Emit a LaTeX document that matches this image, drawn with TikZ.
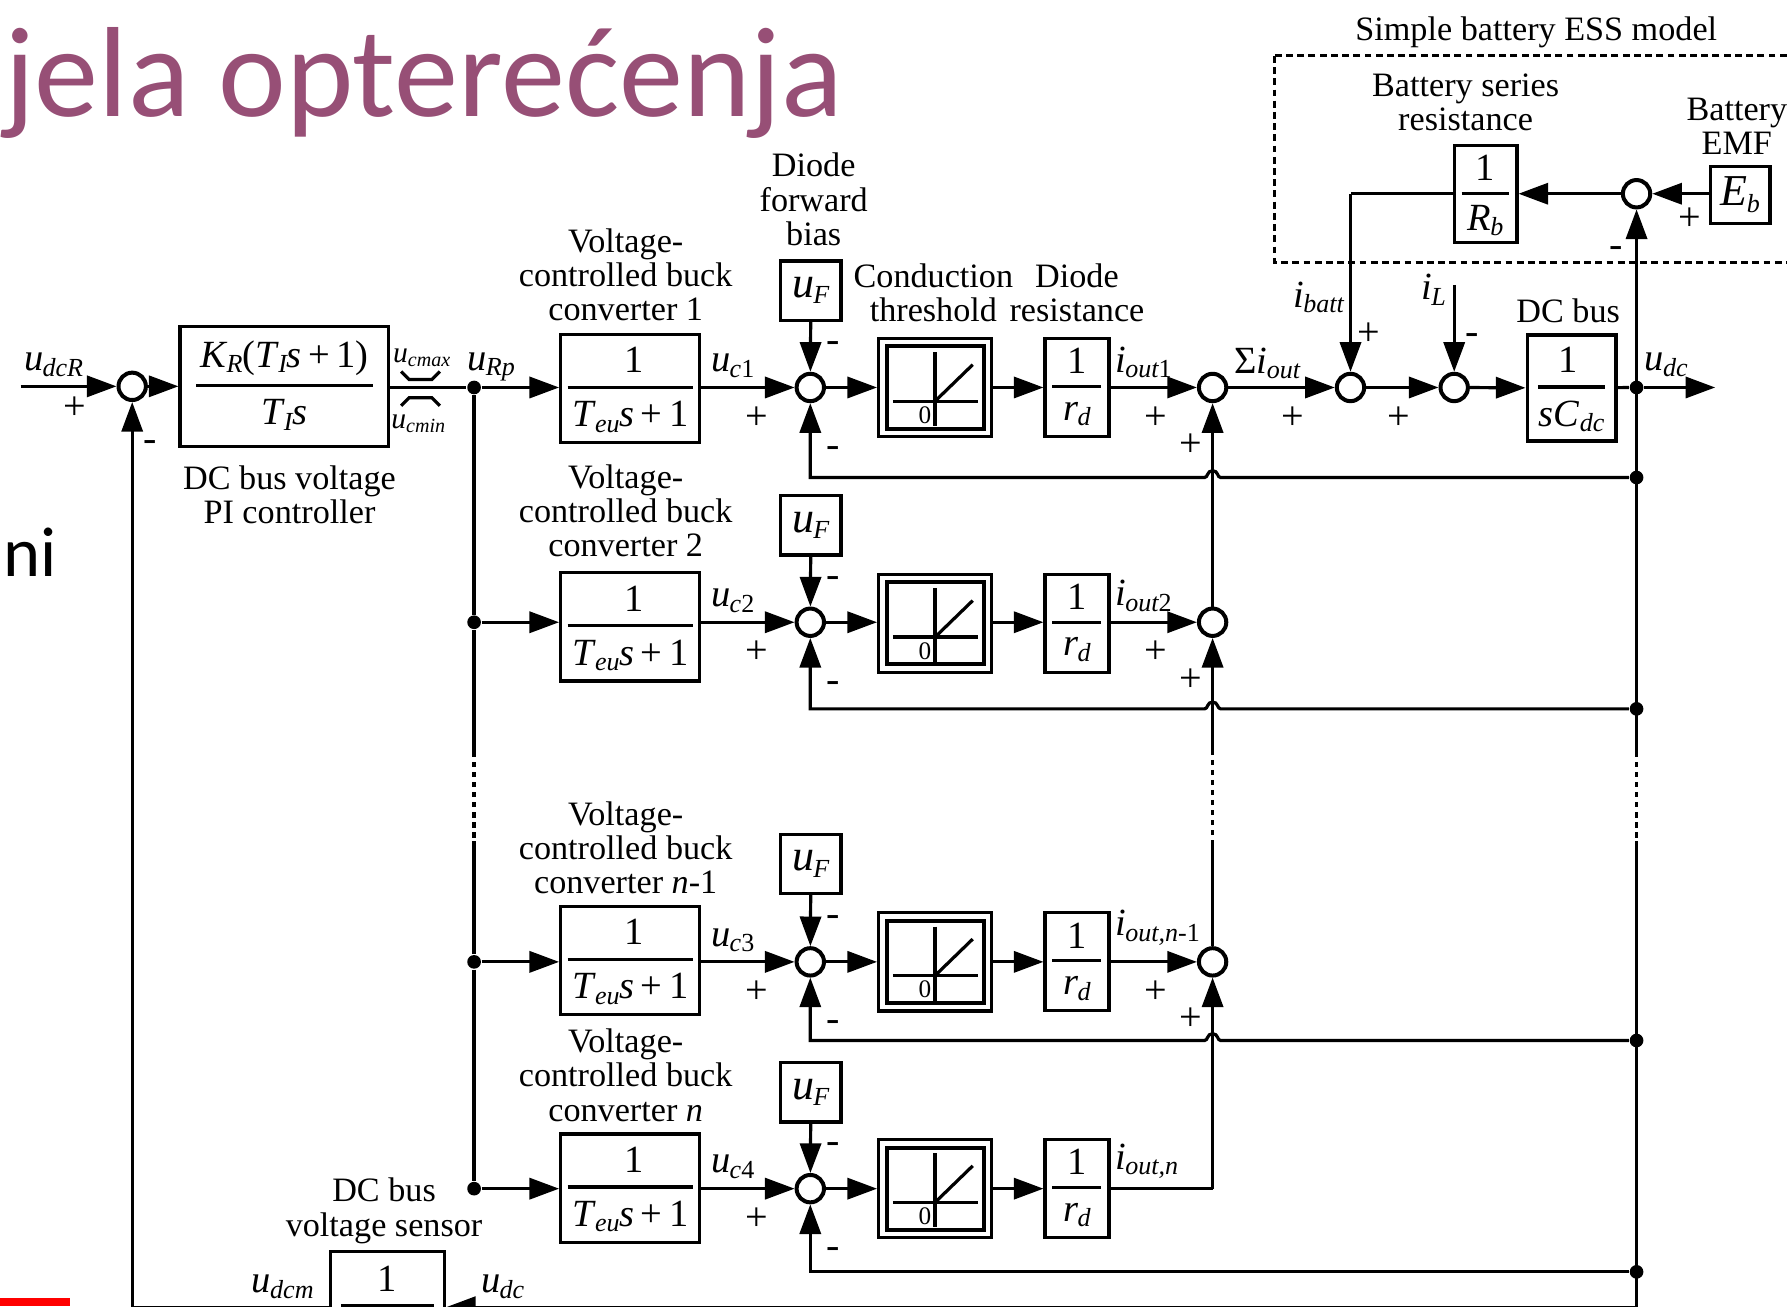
\documentclass[tikz,border=0pt]{standalone}
\usepackage{fontspec}
\setmainfont{Liberation Serif}
\newfontfamily\slidefont{Carlito}
\usepackage{xcolor}
\usetikzlibrary{arrows.meta, calc}
\definecolor{titlecol}{HTML}{974F76}

% symbol with an italic subscript, set as text
\newcommand{\sym}[2]{\textit{#1}\kern-.02em\raisebox{-.32ex}{\fontsize{6.5}{7}\selectfont\itshape #2}}
\newcommand{\symsm}[2]{\textit{#1}\raisebox{-.32ex}{\fontsize{5}{6}\selectfont\itshape #2}}

% block with a fraction: name, x, y, width, height, bar width, top, bottom
\newcommand{\fracblock}[8]{%
  \node[blockbox, minimum width=#4*0.01cm, minimum height=#5*0.01cm] (#1) at (#2,#3) {};
  \draw[wire] ({#2-#6/2},{#3-1}) -- ({#2+#6/2},{#3-1});
  \node[symb] (#1num) at (#2,{#3-min(0.27*#5,25)}) {#7};
  \node[symb] (#1den) at (#2,{#3+min(0.27*#5,25)}) {#8};
}

% saturation block: name, x, y
\newcommand{\satblock}[3]{%
  \node[blockbox, minimum width=0.99cm, minimum height=0.86cm] (#1) at (#2,#3) {};
  \node[blockbox, minimum width=0.85cm, minimum height=0.72cm, line width=1pt] (#1in) at (#2,#3) {};
  \draw[wire] ({#2-37},{#3+12}) -- ({#2+38},{#3+12});
  \draw[wire] (#2,{#3-31}) -- (#2,{#3+34});
  \draw[wire] (#2,{#3+12}) -- ({#2+33},{#3-20});
  \node[font=\fontsize{6.3}{7}\selectfont, inner sep=0pt] (#1zero) at ({#2-9},{#3+24}) {0};
}

\begin{document}
\begin{tikzpicture}[
  x=0.01cm, y=-0.01cm,
  >={Triangle[length=2.6mm,width=1.85mm]},
  wire/.style={line width=0.8pt},
  blockbox/.style={draw, line width=0.8pt, rectangle, inner sep=0pt, fill=white},
  summer/.style={draw, circle, line width=1pt, minimum size=0.24cm, inner sep=0pt, fill=white},
  jdot/.style={circle, fill=black, minimum size=0.12cm, inner sep=0pt},
  lab/.style={font=\fontsize{8.53}{8.54}\selectfont, align=center, inner sep=0pt},
  symb/.style={font=\fontsize{9.6}{10}\selectfont, inner sep=0pt},
  symlab/.style={symb, yshift=-0.02cm},
  symbig/.style={font=\fontsize{11}{11}\selectfont, inner sep=0pt},
  sgn/.style={font=\fontsize{10}{10}\selectfont, inner sep=0pt, yshift=-0.025cm},
  neg/.style={sgn, yshift=-0.04cm},
  skip/.style={line width=0.8pt, dash pattern=on 1.3pt off 1.2pt},
]
\useasboundingbox (0,0) rectangle (1568,1146);

% slide text behind the figure
\node[font=\slidefont\fontsize{32}{32}\selectfont, text=titlecol, anchor=base west, inner sep=0pt] (title) at (3,102.5) {jela opterećenja};
\node[font=\slidefont\fontsize{17.6}{18}\selectfont, anchor=base west, inner sep=0pt] (frag) at (2,506) {ni};
\fill[red] (0,1139) rectangle (61,1146);

% input and PI controller
\node[summer] (sumr) at (116,339) {};
\fracblock{pi}{249.5}{339}{183}{105}{155}{\sym{K}{R}(\sym{T}{I}\textit{s}\,+\,1)}{\sym{T}{I}\textit{s}}
\node[lab] (pitxt) at (254,434) {DC bus voltage\\PI controller};
\coordinate (udcr) at (18,339);
\draw[wire,->] (udcr) -- (sumr);
\draw[wire,->] (sumr) -- (pi);
\node[symlab] (udcrlab) at (47,318) {\sym{u}{dcR}};
\node[sgn] (p0) at (66,356) {+};
\node[neg] (m0) at (132,385) {-};

% limiter marks
\node[font=\fontsize{7.4}{8}\selectfont, inner sep=0pt] (ucmax) at (370,314) {\symsm{u}{cmax}};
\node[font=\fontsize{7.4}{8}\selectfont, inner sep=0pt] (ucmin) at (367,372) {\symsm{u}{cmin}};
\draw[wire] (352,326) -- (359,333) -- (379,333) -- (386,326);
\draw[wire] (352,356) -- (359,349) -- (379,349) -- (386,356);
\node[symlab] (urp) at (431,320) {\sym{u}{Rp}};

% the four converter rows
\foreach \r/\yl/\yc/\yu/\ys/\yf/\yt/\yi/\tail/\isub in {
  1/340/341/255/340/419/241/318/1/{out{\upshape 1}},
  2/546/550/461/547/622/448/523/2/{out{\upshape 2}},
  3/844/843/758/844/913/744/814/{\textit{n}-1}/{out,\textit{n}{\upshape -1}},
  4/1043/1042.5/958.5/1043/1116/943.5/1019/\textit{n}/{out,\textit{n}}}{
  \node[jdot] (jb\r) at (416,\yl) {};
  \node[summer] (sumc\r) at (711,\yl) {};
  \node[jdot] (jf\r) at (1436,\yf) {};
  \fracblock{conv\r}{553}{\yc}{122}{95}{110}{\kern.06cm 1}{\sym{T}{eu}\textit{s}\,+\,1}
  \node[blockbox, symbig, minimum width=0.53cm, minimum height=0.52cm] (uf\r) at (711.5,\yu) {\sym{u}{F}};
  \satblock{sat\r}{820.5}{\ys}
  \fracblock{rd\r}{945}{\ys}{56}{86}{43}{1}{\sym{r}{d}}
  \node[lab] (convtxt\r) at (549,\yt) {Voltage-\\controlled buck\\converter \tail};
  \node[symlab] (uc\r) at (643,{\yl-21}) {\sym{u}{c{\upshape\r}}};
  \node[symb, anchor=west] (iout\r) at (978,\yi) {\sym{i}{\isub}};
  \node[sgn] (pc\r) at (664,{\yl+24}) {+};
  \node[neg] (mu\r) at (731,{\yl-42}) {-};
  \node[neg] (md\r) at (731,{\yl+50}) {-};
  \draw[wire,->] (jb\r) -- (conv\r.west |- jb\r);
  \draw[wire,->] (conv\r.east |- sumc\r) -- (sumc\r);
  \draw[wire,->] (uf\r) -- (sumc\r);
  \draw[wire,->] (sumc\r) -- (sat\r.west |- sumc\r);
  \draw[wire,->] (sat\r.east |- sumc\r) -- (rd\r.west |- sumc\r);
}
\node[lab] (biastxt) at (714,175) {Diode\\forward\\bias};
\node[lab] (condtxt) at (819,257) {Conduction\\threshold};
\node[lab] (restxt) at (945,257) {Diode\\resistance};

% output summers and their feedback lines with the hops
\foreach \r/\yl/\yf in {1/340/419, 2/546/622, 3/844/913}{
  \node[summer] (sumo\r) at (1064,\yl) {};
  \draw[wire,->] (rd\r.east |- sumo\r) -- (sumo\r);
  \node[sgn] (po\r) at (1014,{\yl+24}) {+};
  \node[sgn] (pl\r) at (1045,{\yl+48}) {+};
  \draw[wire,->] (jf\r) -- (1071,\yf)
     .. controls (1068,\yf) and (1069,{\yf-6}) .. (1064,{\yf-6})
     .. controls (1059,{\yf-6}) and (1060,\yf) .. (1057,\yf)
     -- (711,\yf) -- (sumc\r);
}
\draw[wire,->] (jf4) -- (711,1116) -- (sumc4);
\coordinate (cn) at (1064,1043);
\draw[wire] (rd4.east |- cn) -- (cn);
\draw[wire,->] (cn) -- (sumo3);
\draw[wire,->] (sumo2) -- (sumo1);
\coordinate (ol) at (1064,658);
\coordinate (oh) at (1064,738);
\draw[wire,->] (ol) -- (sumo2);
\draw[skip] (ol) -- (oh);
\draw[wire] (oh) -- (sumo3);

% reference bus on the left
\coordinate (bl) at (416,660);
\coordinate (bh) at (416,738);
\draw[wire] (pi.east |- jb1) -- (jb1);
\draw[wire] (jb1) -- (jb2) -- (bl);
\draw[skip] (bl) -- (bh);
\draw[wire] (bh) -- (jb3) -- (jb4);

% DC bus
\node[summer] (sumb) at (1185,340) {};
\node[summer] (suml) at (1276,340) {};
\fracblock{dcbus}{1379}{340.5}{78}{93}{59}{1\kern.06cm}{\textit{sC}\raisebox{-.32ex}{\fontsize{6.5}{7}\selectfont\itshape dc}}
\node[jdot] (jdc) at (1436,340) {};
\coordinate (uout) at (1505,340);
\draw[wire,->] (sumo1) -- (sumb);
\draw[wire,->] (sumb) -- (suml);
\draw[wire,->] (suml) -- (dcbus);
\draw[wire] (dcbus) -- (jdc);
\draw[wire,->] (jdc) -- (uout);
\node[symlab] (sumiout) at (1112,317) {Σ\sym{i}{out}};
\node[sgn] (p1) at (1134,364) {+};
\node[sgn] (p2) at (1227,364) {+};
\node[sgn] (p3) at (1201,291) {+};
\node[neg] (m3) at (1292,291) {-};
\node[symlab] (ibatt) at (1157,259) {\sym{i}{batt}};
\node[symlab] (il) at (1258,252) {\sym{i}{L}};
\node[symlab] (udc) at (1462,318) {\sym{u}{dc}};
\node[lab] (dctxt) at (1376,273) {DC bus};
\coordinate (ilin) at (1276,250);
\draw[wire,->] (ilin) -- (suml);

% battery ESS model
\draw[line width=0.8pt, dash pattern=on 1.7pt off 1.1pt] (1118,49) rectangle (1600,230);
\node[lab] (esstxt) at (1348,28) {Simple battery ESS model};
\node[lab] (rbtxt) at (1286,90) {Battery series\\resistance};
\node[lab] (emftxt) at (1524,111) {Battery\\EMF};
\fracblock{rb}{1303.5}{170.5}{55}{85}{42}{1}{\sym{R}{b}}
\node[blockbox, symbig, minimum width=0.52cm, minimum height=0.50cm] (eb) at (1527,171) {\sym{E}{b}};
\node[summer] (sume) at (1436,170) {};
\node[sgn] (p4) at (1483,190) {+};
\node[neg] (m4) at (1418,215) {-};
\draw[wire,->] (eb.west |- sume) -- (sume);
\draw[wire,->] (sume) -- (rb.east |- sume);
\coordinate (ct) at (1185,170);
\draw[wire] (rb.west |- ct) -- (ct);
\draw[wire,->] (ct) -- (sumb);

% measured voltage line
\coordinate (vl) at (1436,660);
\coordinate (vh) at (1436,738);
\coordinate (vb) at (1436,1147);
\coordinate (fb) at (116,1147);
\draw[wire,->] (vl) -- (sume);
\draw[skip] (vl) -- (vh);
\draw[wire] (vh) -- (vb);
\fracblock{sens}{340}{1147}{100}{98}{82}{1}{}
\draw[wire,->] (vb) -- (sens.east |- vb);
\draw[wire,->] (sens.west |- fb) -- (fb) -- (sumr);
\node[lab] (senstxt) at (337,1062.5) {DC bus\\voltage sensor};
\node[symlab] (udcm) at (248,1127) {\sym{u}{dcm}};
\node[symlab] (udcs) at (441,1127) {\sym{u}{dc}};

\end{tikzpicture}
\end{document}
